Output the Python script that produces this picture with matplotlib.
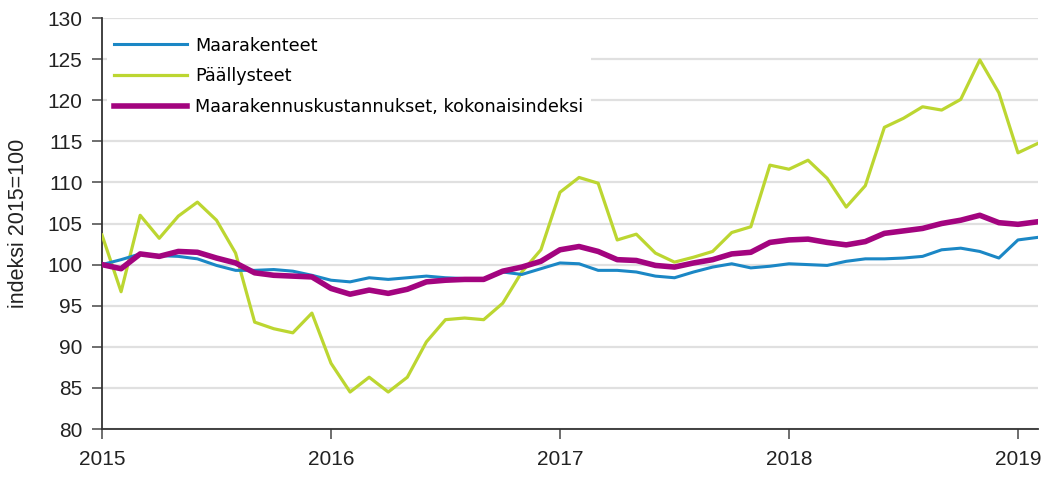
import numpy as np
import matplotlib
matplotlib.use("Agg")
import matplotlib.pyplot as plt

# monthly index values, Jan 2015 .. Feb 2019 (2015=100)
years = ["2015", "2016", "2017", "2018", "2019"]

maarakenteet = [
    100.0, 100.6, 101.3, 101.1, 101.0, 100.7, 99.9, 99.3, 99.3, 99.4, 99.2, 98.7,
    98.1, 97.9, 98.4, 98.2, 98.4, 98.6, 98.4, 98.3, 98.2, 99.1, 98.8, 99.5,
    100.2, 100.1, 99.3, 99.3, 99.1, 98.6, 98.4, 99.1, 99.7, 100.1, 99.6, 99.8,
    100.1, 100.0, 99.9, 100.4, 100.7, 100.7, 100.8, 101.0, 101.8, 102.0, 101.6, 100.8,
    103.0, 103.3,
]

paallysteet = [
    103.6, 96.7, 106.0, 103.2, 105.9, 107.6, 105.4, 101.4, 93.0, 92.2, 91.7, 94.1,
    88.0, 84.5, 86.3, 84.5, 86.3, 90.6, 93.3, 93.5, 93.3, 95.3, 99.1, 101.8,
    108.8, 110.6, 109.9, 103.0, 103.7, 101.4, 100.3, 100.9, 101.6, 103.9, 104.6, 112.1,
    111.6, 112.7, 110.5, 107.0, 109.6, 116.7, 117.8, 119.2, 118.8, 120.1, 124.9, 120.9,
    113.6, 114.7,
]

kokonais = [
    100.0, 99.5, 101.3, 101.0, 101.6, 101.5, 100.8, 100.2, 99.0, 98.7, 98.6, 98.5,
    97.1, 96.4, 96.9, 96.5, 97.0, 97.9, 98.1, 98.2, 98.2, 99.2, 99.7, 100.4,
    101.8, 102.2, 101.6, 100.6, 100.5, 99.9, 99.7, 100.2, 100.6, 101.3, 101.5, 102.7,
    103.0, 103.1, 102.7, 102.4, 102.8, 103.8, 104.1, 104.4, 105.0, 105.4, 106.0, 105.1,
    104.9, 105.2,
]

labels = ["Maarakenteet", "Päällysteet", "Maarakennuskustannukset, kokonaisindeksi"]

months = np.arange(len(kokonais))

fig = plt.figure(figsize=(10.47, 4.79), dpi=100)
ax = fig.add_axes([102 / 1047, 50 / 479, 936 / 1047, 411 / 479])

l2, = ax.plot(months, paallysteet, color="#bcd631", lw=2.3, zorder=3)
l1, = ax.plot(months, maarakenteet, color="#1b87c5", lw=2.2, zorder=4)
l3, = ax.plot(months, kokonais, color="#a3047f", lw=4.0, zorder=5)

ax.set_xlim(0, 49.05)
ax.set_ylim(80, 130)
ax.set_yticks(np.arange(80, 131, 5))
ax.set_xticks([0, 12, 24, 36, 48])
ax.set_xticklabels(years)

ax.grid(axis="y", color="#e0e0e0", lw=1.6, zorder=0)
ax.set_axisbelow(True)
for s in ["top", "right"]:
    ax.spines[s].set_visible(False)
for s in ["left", "bottom"]:
    ax.spines[s].set_color("#333333")
    ax.spines[s].set_linewidth(1.3)

tick_font = ["Liberation Sans Narrow", "Liberation Sans"]
ax.tick_params(axis="y", length=7, width=1.2, color="#555555", pad=7,
               labelsize=15, labelcolor="#222222")
ax.tick_params(axis="x", length=7, width=1.2, color="#555555", pad=8,
               labelsize=15, labelcolor="#222222")
for t in ax.get_xticklabels() + ax.get_yticklabels():
    t.set_family(tick_font)

ax.set_ylabel("indeksi 2015=100", fontsize=15.5, family=tick_font,
              color="#222222", labelpad=13)

leg = ax.legend([l1, l2, l3], labels, loc="upper left",
                bbox_to_anchor=(0.0, 0.985),
                prop={"family": "DejaVu Sans", "size": 12.7},
                handlelength=4.1, handletextpad=0.5, labelspacing=0.72,
                borderaxespad=0.3, borderpad=0.4, frameon=True, fancybox=False)
leg.get_frame().set_facecolor("white")
leg.get_frame().set_edgecolor("none")
leg.get_frame().set_alpha(1.0)
leg.set_zorder(6)

plt.savefig("out.png", dpi=100)
